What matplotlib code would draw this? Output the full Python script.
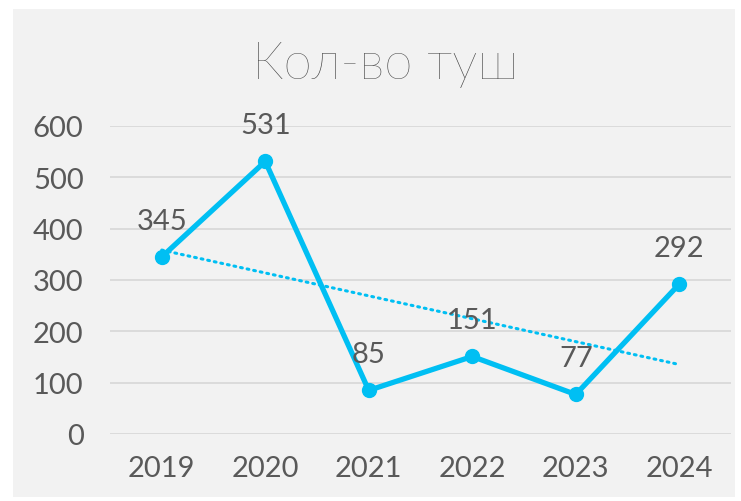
import numpy as np
import matplotlib.pyplot as plt
from matplotlib.patches import Rectangle

# data
years = ['2019', '2020', '2021', '2022', '2023', '2024']
counts = [345, 531, 85, 151, 77, 292]
title = 'Кол-во туш'

plt.rcParams['font.family'] = ['Lato', 'DejaVu Sans']
txt = '#595959'
blue = '#00BFF3'

fig = plt.figure(figsize=(7.41, 5.02), dpi=100)
fig.patch.set_facecolor('white')
# grey chart area with a thin white margin
fig.patches.append(Rectangle((13 / 741, 4 / 502), 722 / 741, 488 / 502,
                             transform=fig.transFigure, facecolor='#f2f2f2',
                             edgecolor='none', zorder=-10))

ax = fig.add_axes([110 / 741, (502 - 435) / 502, 621 / 741, 308 / 502])
ax.set_facecolor('none')

x = np.arange(len(years))
ax.plot(x, counts, color=blue, linewidth=3.8, marker='o', markersize=10,
        solid_capstyle='round', zorder=3)

# linear trend line
k, b = np.polyfit(x, counts, 1)
ax.plot(x, k * x + b, color=blue, linewidth=2.2, linestyle=(0, (0.6, 1.6)),
        dash_capstyle='round', zorder=2)

for xi, v in zip(x, counts):
    ax.annotate(str(v), (xi, v), xytext=(0, 26), textcoords='offset points',
                ha='center', va='center', fontsize=21, color=txt, zorder=4)

ax.set_xlim(-0.5, 5.5)
ax.set_ylim(0, 600)
ax.set_yticks(range(0, 601, 100))
ax.set_xticks(x)
ax.set_xticklabels(years)
ax.grid(axis='y', color='#d9d9d9', linewidth=1.3)
ax.set_axisbelow(True)
for s in ax.spines.values():
    s.set_visible(False)
ax.tick_params(length=0, labelsize=21, labelcolor=txt)
ax.tick_params(axis='y', pad=19)
ax.tick_params(axis='x', pad=15)

fig.text(385 / 741, 1 - 65 / 502, title, ha='center', va='center',
         fontsize=37, color='#404040', fontweight='light')

fig.savefig('out.png', dpi=100)
